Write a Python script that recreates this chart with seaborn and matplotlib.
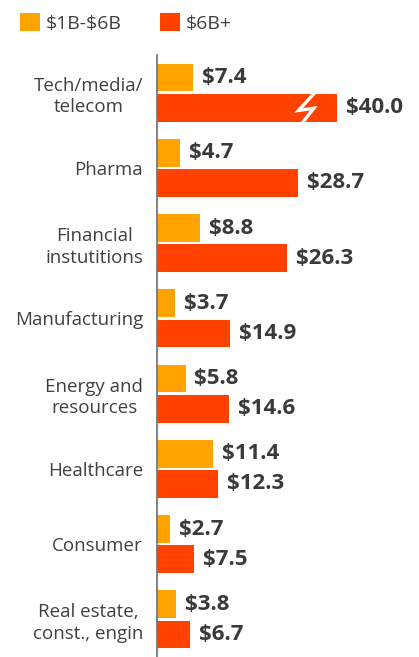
import pandas as pd
import matplotlib.pyplot as plt
import seaborn as sns
from matplotlib.patches import Patch

# Dados do gráfico
categorias = ['Tech/media/\ntelecom', 'Pharma', 'Financial\ninstutitions', 'Manufacturing',
              'Energy and\nresources', 'Healthcare', 'Consumer', 'Real estate,\nconst., engin']
faixa_pequena = [7.4, 4.7, 8.8, 3.7, 5.8, 11.4, 2.7, 3.8]   # $1B-$6B
faixa_grande = [40.0, 28.7, 26.3, 14.9, 14.6, 12.3, 7.5, 6.7]  # $6B+
series = [r'\$1B-\$6B', r'\$6B+']
cores = ['#FFA300', '#FF4200']

# barra muito longa é cortada com um símbolo de quebra
LIMITE_BARRA = 36.5
PONTO_QUEBRA = 30.2

sns.set_theme(style="white")
plt.rcParams['font.family'] = ['Open Sans', 'DejaVu Sans']

df = pd.DataFrame({
    'categoria': categorias * 2,
    'serie': [series[0]] * len(categorias) + [series[1]] * len(categorias),
    'valor': faixa_pequena + faixa_grande,
})
df['exibido'] = df['valor'].clip(upper=LIMITE_BARRA)

fig = plt.figure(figsize=(4.19, 6.57), dpi=100)
ax = fig.add_axes([157 / 419, 0, 1 - 157 / 419, 602 / 657])

sns.barplot(data=df, y='categoria', x='exibido', hue='serie', palette=cores,
            orient='h', width=0.8, gap=0.08, ax=ax, legend=False,
            saturation=1, edgecolor='none')

ax.set_xlim(0, 262 / 4.93)
ax.set_ylim(len(categorias) - 0.5, -0.5)
ax.set_xlabel('')
ax.set_ylabel('')
ax.set_xticks([])
ax.tick_params(axis='y', length=0, pad=10)
ax.set_yticks(range(len(categorias)))
ax.set_yticklabels(categorias, fontsize=13.5, color='#404040',
                   ha='right', multialignment='center', linespacing=1.25)
for lado in ['top', 'right', 'bottom']:
    ax.spines[lado].set_visible(False)
ax.spines['left'].set_color('#777777')
ax.spines['left'].set_linewidth(1.3)

# rótulos de valor
for container, valores in zip(ax.containers, [faixa_pequena, faixa_grande]):
    for barra, v in zip(container, valores):
        y = barra.get_y() + barra.get_height() / 2
        ax.text(barra.get_width() + 1.8, y, f'${v:.1f}', va='center', ha='left',
                fontsize=16, fontweight='bold', color='#3a3a3a')
        if v > LIMITE_BARRA:
            # raio branco indicando a quebra da barra
            h = barra.get_height()
            y0 = barra.get_y()
            xs = [PONTO_QUEBRA + 1.7, PONTO_QUEBRA - 1.5, PONTO_QUEBRA + 1.6, PONTO_QUEBRA - 0.6]
            ys = [y0 - 0.02 * h, y0 + 0.6 * h, y0 + 0.52 * h, y0 + 1.02 * h]
            ax.plot(xs, ys, color='white', lw=2.4, solid_joinstyle='miter')

# legenda
handles = [Patch(facecolor=c, edgecolor='none', label=s) for c, s in zip(cores, series)]
leg = fig.legend(handles=handles, loc='upper left', bbox_to_anchor=(0.029, 0.992), ncol=2,
                 frameon=False, fontsize=14, handlelength=1.03, handleheight=1.03,
                 handletextpad=0.28, columnspacing=2.0, borderaxespad=0)
for t in leg.get_texts():
    t.set_color('#404040')

fig.savefig('out.png', dpi=100)
